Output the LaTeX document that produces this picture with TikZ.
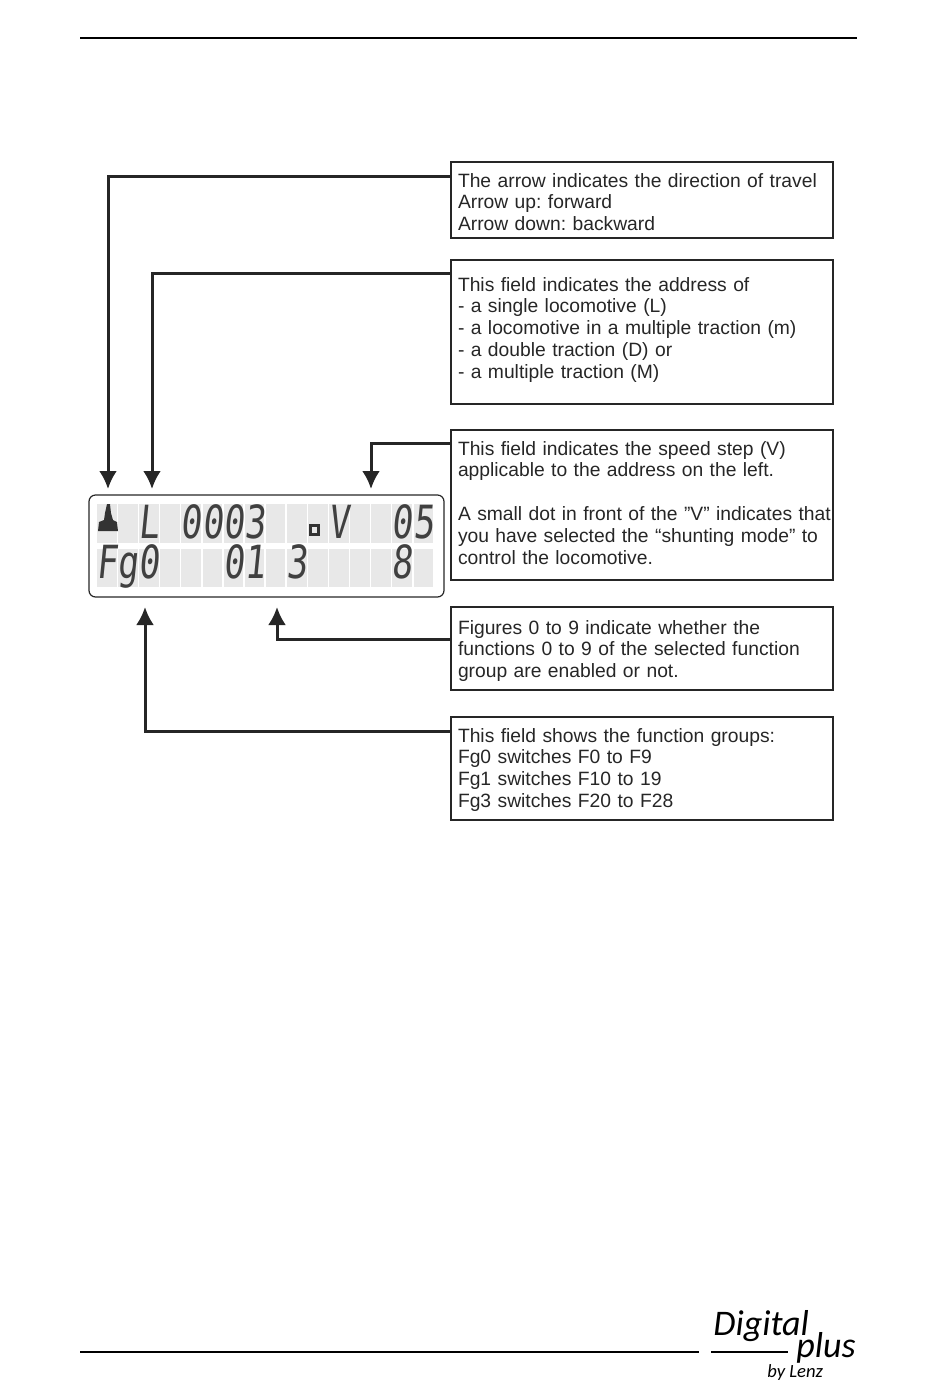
\documentclass[tikz,border=0pt]{standalone}
\usepackage{fontspec}
\setmainfont{Liberation Sans}
\newfontfamily\lcdfont[FakeSlant=0.1,FakeStretch=0.76]{DejaVu Sans Mono}
\newfontfamily\logofont{Carlito}
\usetikzlibrary{calc, positioning}
\usetikzlibrary{arrows.meta}
\frenchspacing

\tikzset{
  msgbox/.style 2 args={draw=black!85, line width=1.5*0.02cm, anchor=north west, text width=7.36cm,
    align=left, inner xsep=0.14cm, inner ysep=0pt, outer sep=0pt, text height=#2*0.02cm,
    text depth=(#1-#2)*0.02cm, font=\fontsize{10.97}{12.47}\selectfont, text=black!85},
  link/.style={draw=black!85, line width=3*0.02cm, -{Latex[length=0.36cm,width=0.36cm]}},
  rule/.style={draw=black, line width=2*0.02cm},
  lcdcell/.style={fill=black!9, draw=none},
  lcdchar/.style={anchor=base, inner sep=0pt, text=black!75, text height=19pt, text depth=0pt,
    font=\lcdfont\fontsize{26}{26}\selectfont},
  logotext/.style={inner sep=0pt, anchor=base west, font=\logofont\itshape\fontsize{#1}{#1}\selectfont}
}

\begin{document}
\begin{tikzpicture}[x=0.02cm,y=-0.02cm]
\useasboundingbox (0,0) rectangle (950,1384);
\def\cellw{21.1}
\def\firstx{97}

\draw[rule] (80,38) -- (857,38);
\draw[rule] (80,1352) -- (699,1352);
\draw[rule] (711,1352) -- (788,1352);

\node[logotext=20.5] (logoDigital) at (713,1335) {Digital};
\node[logotext=20.5] (logoPlus) at (796,1357) {plus};
\node[logotext=10.6] (logoLenz) at (767,1377) {by Lenz};

\draw[black!85, line width=1.2*0.02cm, rounded corners=0.13cm] (89,495) rectangle (444,597);

\foreach \col in {0,...,15} {
  \pgfmathsetmacro{\xL}{\firstx+\col*\cellw}
  \fill[lcdcell] (\xL,504) rectangle ++(19.6,39);
  \fill[lcdcell] (\xL,549) rectangle ++(19.6,38);
}

\foreach \col/\ch in {2/L,4/0,5/0,6/0,7/3,11/V,14/0,15/5} {
  \pgfmathsetmacro{\xC}{\firstx+\col*\cellw+10}
  \node[lcdchar] (top\col) at (\xC,538) {\ch};
}
\foreach \col/\ch in {0/F,1/g,2/0,6/0,7/1,9/3,14/8} {
  \pgfmathsetmacro{\xC}{\firstx+\col*\cellw+10}
  \node[lcdchar] (bot\col) at (\xC,578) {\ch};
}

\fill[black!80] (98,531) -- (99,522) -- (104,520) -- (105,513) -- (107,504) -- (110,504)
  -- (111,513) -- (113,520) -- (117,522) -- (118,531) -- cycle;
\draw[black!80, line width=3*0.02cm] (310,525) rectangle (318,534);

\node[msgbox={76}{25}] (boxDir) at (451,162) {The arrow indicates the direction of travel\\Arrow up: forward\\Arrow down: backward};
\node[msgbox={144}{31}] (boxAddr) at (451,260) {This field indicates the address of\\- a single locomotive (L)\\- a locomotive in a multiple traction (m)\\- a double traction (D) or\\- a multiple traction (M)};
\node[msgbox={150}{25}] (boxSpeed) at (451,430) {This field indicates the speed step (V)\\applicable to the address on the left.\\[12.47pt]\mbox{A small dot in front of the ”V” indicates that}\\you have selected the “shunting mode” to\\control the locomotive.};
\node[msgbox={83}{27}] (boxFunc) at (451,607) {Figures 0 to 9 indicate whether the\\functions 0 to 9 of the selected function\\group are enabled or not.};
\node[msgbox={103}{25}] (boxGroup) at (451,717) {This field shows the function groups:\\Fg0 switches F0 to F9\\Fg1 switches F10 to 19\\Fg3 switches F20 to F28};

\coordinate (tipDir) at (108,489);
\coordinate (tipAddr) at (152,489);
\coordinate (tipSpeed) at (371,489);
\coordinate (tipFunc) at (277,607);
\coordinate (tipGroup) at (145,607);

\draw[link] ($(boxDir.north west)+(0,14)$) -| (tipDir);
\draw[link] ($(boxAddr.north west)+(0,13)$) -| (tipAddr);
\draw[link] ($(boxSpeed.north west)+(0,13)$) -| (tipSpeed);
\draw[link] ($(boxFunc.north west)+(0,32)$) -| (tipFunc);
\draw[link] ($(boxGroup.north west)+(0,14)$) -| (tipGroup);
\end{tikzpicture}
\end{document}
